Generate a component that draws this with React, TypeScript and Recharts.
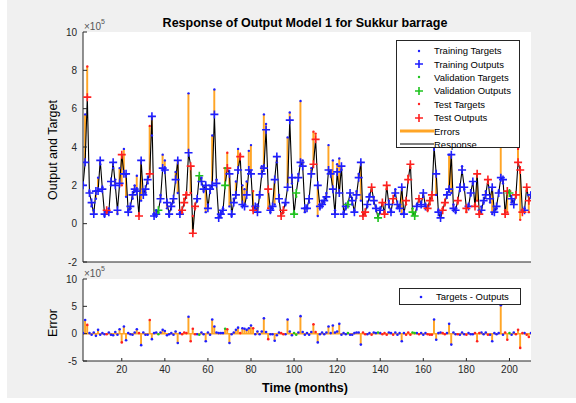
import React from 'react';
import { ComposedChart, Bar, Line, Scatter, XAxis, YAxis, ReferenceLine } from 'recharts';

// time index, months 2..210
const months: number[] = Array.from({ length: 209 }, (_, i) => i + 2);

// values in units of 1e5
const outputs: number[] = [
  2.0, 3.2, 6.6, 1.6, 1.1, 0.5, 1.7, 1.7, 3.3, 1.8,
  0.5, 0.7, 0.6, 2.2, 3.2, 2.0, 0.7, 2.1, 3.6, 2.6,
  2.6, 0.6, 0.9, 1.5, 1.8, 1.7, 0.4, 3.3, 1.5, 1.8,
  2.3, 2.6, 5.6, 0.4, 0.5, 0.7, 1.3, 2.9, 2.8, 1.1,
  0.5, 0.9, 1.3, 2.3, 3.3, 0.5, 0.7, 1.1, 1.5, 3.7,
  3.0, -0.5, 0.9, 1.3, 2.5, 2.2, 1.8, 2.0, 0.8, 1.8,
  2.0, 5.7, 2.1, 0.3, 0.5, 0.7, 2.0, 2.9, 2.6, 0.5,
  1.1, 1.5, 2.8, 3.5, 1.0, 0.9, 1.5, 2.8, 2.6, 0.7,
  0.9, 0.6, 1.5, 2.6, 2.9, 4.9, 1.8, 0.7, 0.9, 2.3,
  3.5, 1.3, 0.4, 0.7, 1.1, 1.9, 5.4, 2.4, 0.5, 1.6,
  2.4, 3.2, 3.0, 0.8, 0.8, 1.3, 2.6, 3.1, 4.4, 2.0,
  0.9, 1.0, 1.2, 1.4, 2.8, 2.6, 1.8, 0.5, 2.7, 1.6,
  3.0, 0.5, 0.9, 1.0, 1.6, 1.2, 0.6, 1.5, 2.4, 3.2,
  0.4, 0.6, 1.0, 1.4, 1.9, 1.2, 0.8, 0.3, 0.7, 1.1,
  0.5, 2.0, 1.0, 0.6, 1.3, 1.6, 1.0, 0.8, 1.9, 0.5,
  1.2, 2.3, 3.1, 0.6, 0.4, 0.9, 1.3, 1.0, 1.6, 0.9,
  0.8, 1.2, 1.5, 4.0, 2.6, 0.6, 0.3, 0.7, 1.1, 1.5,
  1.8, 3.6, 0.8, 0.7, 1.2, 1.9, 2.8, 1.9, 0.8, 0.9,
  1.6, 2.2, 0.9, 2.6, 0.5, 0.7, 1.2, 1.5, 2.3, 1.3,
  1.9, 0.6, 0.9, 1.6, 2.4, 2.3, 0.5, 1.7, 1.6, 1.3,
  1.0, 1.5, 3.2, 2.8, 0.6, 0.7, 1.9, 1.2, 1.5,
];

const targets: number[] = [
  2.1, 5.7, 8.2, 1.7, 0.9, 0.7, 1.3, 2.4, 3.1, 1.9,
  0.4, 0.6, 0.8, 2.0, 2.9, 2.3, 0.5, 2.9, 2.0, 3.9,
  1.4, 0.7, 0.8, 1.3, 2.0, 2.5, 0.5, 1.2, 1.7, 1.6,
  2.1, 5.1, 4.6, 0.5, 0.7, 0.6, 1.5, 3.6, 3.3, 0.8,
  0.4, 1.0, 1.1, 2.7, 1.6, 0.6, 0.6, 1.3, 1.6, 6.8,
  1.6, 0.4, 0.8, 1.2, 2.3, 2.4, 1.7, 0.6, 1.0, 1.6,
  4.6, 7.0, 2.3, 0.4, 0.6, 0.8, 2.9, 3.7, 0.9, 0.4,
  1.3, 2.2, 3.9, 3.6, 2.0, 1.8, 2.2, 3.8, 4.1, 1.7,
  0.8, 1.0, 1.4, 3.0, 5.7, 5.2, 0.8, 0.6, 0.8, 1.0,
  3.2, 1.5, 0.5, 0.6, 1.0, 4.5, 5.8, 2.1, 0.6, 1.4,
  2.6, 6.4, 3.3, 0.6, 0.9, 1.1, 2.9, 4.8, 4.7, 0.4,
  0.8, 1.2, 1.1, 1.6, 4.1, 2.7, 3.3, 0.7, 3.1, 3.4,
  2.8, 0.6, 0.8, 1.1, 1.4, 1.0, 0.7, 1.7, 2.6, 1.2,
  0.6, 0.5, 0.9, 1.5, 1.7, 1.4, 0.9, 0.5, 0.8, 1.0,
  0.6, 1.8, 1.2, 0.7, 1.1, 1.8, 0.8, 0.9, 0.5, 0.6,
  1.0, 2.5, 2.9, 0.8, 0.5, 1.0, 1.2, 1.1, 1.4, 1.0,
  0.7, 1.0, 1.3, 6.6, 1.5, 0.7, 0.5, 0.8, 1.0, 1.6,
  3.6, 1.6, 1.0, 0.6, 1.1, 1.7, 3.0, 1.8, 0.6, 1.0,
  1.5, 2.1, 1.0, 1.2, 0.6, 0.9, 1.1, 1.7, 2.1, 1.1,
  0.5, 0.7, 0.8, 1.7, 7.6, 2.1, 0.7, 0.6, 1.7, 1.1,
  1.2, 1.4, 3.9, 0.2, 0.7, 0.8, 1.7, 0.6, 1.6,
];

// T = training, V = validation, S = test
const sets: string[] = [
  'T', 'T', 'S', 'T', 'T', 'T', 'T', 'T', 'T', 'T',
  'T', 'S', 'T', 'T', 'T', 'T', 'T', 'T', 'S', 'T',
  'T', 'T', 'T', 'T', 'T', 'T', 'S', 'T', 'T', 'T',
  'T', 'S', 'T', 'T', 'T', 'V', 'T', 'T', 'T', 'T',
  'T', 'T', 'T', 'T', 'T', 'T', 'S', 'S', 'S', 'T',
  'S', 'S', 'S', 'T', 'V', 'T', 'T', 'T', 'T', 'T',
  'T', 'T', 'T', 'T', 'T', 'T', 'V', 'S', 'T', 'T',
  'T', 'T', 'T', 'S', 'T', 'T', 'T', 'T', 'T', 'S',
  'T', 'T', 'T', 'T', 'T', 'T', 'S', 'T', 'T', 'T',
  'T', 'T', 'S', 'S', 'T', 'T', 'T', 'T', 'V', 'V',
  'T', 'T', 'T', 'T', 'T', 'T', 'T', 'S', 'S', 'T',
  'T', 'T', 'T', 'T', 'T', 'T', 'T', 'T', 'T', 'T',
  'T', 'T', 'T', 'V', 'T', 'T', 'T', 'T', 'T', 'T',
  'S', 'S', 'T', 'T', 'S', 'T', 'T', 'V', 'T', 'S',
  'S', 'S', 'T', 'T', 'S', 'T', 'T', 'T', 'T', 'T',
  'S', 'S', 'S', 'V', 'V', 'T', 'S', 'T', 'T', 'T',
  'S', 'S', 'S', 'T', 'T', 'T', 'T', 'S', 'S', 'T',
  'T', 'T', 'T', 'T', 'S', 'T', 'T', 'T', 'S', 'T',
  'T', 'T', 'S', 'S', 'S', 'T', 'T', 'T', 'S', 'T',
  'T', 'T', 'T', 'T', 'T', 'T', 'S', 'S', 'V', 'T',
  'T', 'S', 'S', 'S', 'S', 'T', 'S', 'S', 'T',
];

const xTicks = [20, 40, 60, 80, 100, 120, 140, 160, 180, 200];
const respTicks = [-2, 0, 2, 4, 6, 8, 10];
const errTicks = [-5, 0, 5, 10];

const setColor: Record<string, string> = { T: '#1f1fff', V: '#1fc41f', S: '#ff2020' };
const ORANGE = '#ffa526';
const AXIS = '#262626';
const FONT = 'Arial, "Liberation Sans", Helvetica, sans-serif';

const rows = months.map((m, i) => ({
  month: m,
  output: outputs[i],
  target: targets[i],
  span: [Math.min(outputs[i], targets[i]), Math.max(outputs[i], targets[i])],
  error: Math.round((targets[i] - outputs[i]) * 100) / 100,
  set: sets[i],
}));
const bySet = (s: string) => rows.filter((r) => r.set === s);

const plus = (color: string) => (p: any) => (
  <path
    d={`M${p.cx - 4},${p.cy}H${p.cx + 4}M${p.cx},${p.cy - 4}V${p.cy + 4}`}
    stroke={color}
    strokeWidth={1.6}
    fill="none"
  />
);
const dot = (color: string, r: number) => (p: any) => <circle cx={p.cx} cy={p.cy} r={r} fill={color} />;

const tickStyle = { fontSize: 10, fill: AXIS, fontFamily: FONT };

const abs = (left: number, top: number, extra: React.CSSProperties = {}): React.CSSProperties => ({
  position: 'absolute',
  left,
  top,
  fontFamily: FONT,
  color: AXIS,
  whiteSpace: 'nowrap',
  ...extra,
});

const legendItems = [
  { label: 'Training Targets', kind: 'dot', color: setColor.T },
  { label: 'Training Outputs', kind: 'plus', color: setColor.T },
  { label: 'Validation Targets', kind: 'dot', color: setColor.V },
  { label: 'Validation Outputs', kind: 'plus', color: setColor.V },
  { label: 'Test Targets', kind: 'dot', color: setColor.S },
  { label: 'Test Outputs', kind: 'plus', color: setColor.S },
  { label: 'Errors', kind: 'line', color: ORANGE },
  { label: 'Response', kind: 'line', color: '#000' },
];

const Icon = ({ kind, color }: { kind: string; color: string }) => (
  <svg width={34} height={12} style={{ display: 'block' }}>
    {kind === 'dot' && <circle cx={19} cy={6} r={1.2} fill={color} />}
    {kind === 'plus' && <path d="M15,6H23M19,2V10" stroke={color} strokeWidth={1.6} />}
    {kind === 'line' && <line x1={0} y1={6} x2={34} y2={6} stroke={color} strokeWidth={color === ORANGE ? 3 : 1.2} />}
  </svg>
);

export default function App() {
  return (
    <div style={{ position: 'absolute', left: 0, top: 0, width: 576, height: 403, background: '#fff', overflow: 'hidden' }}>
      <div style={{ position: 'absolute', left: 7, top: 0, width: 569, height: 398, background: '#f0f0f0' }} />

      {/* response plot */}
      <div style={{ position: 'absolute', left: 0, top: 0 }}>
        <ComposedChart width={576} height={270} data={rows} margin={{ top: 32, right: 45, bottom: 0, left: 0 }}>
          <rect x={83} y={32} width={448} height={230} fill="#fff" />
          <XAxis dataKey="month" type="number" domain={[2, 210]} ticks={xTicks} allowDataOverflow height={8} tick={false} tickSize={-4} stroke={AXIS} />
          <XAxis xAxisId="top" orientation="top" dataKey="month" type="number" domain={[2, 210]} ticks={xTicks} allowDataOverflow height={0} tick={false} tickSize={-4} stroke={AXIS} />
          <YAxis type="number" domain={[-2, 10]} ticks={respTicks} allowDataOverflow width={83} tickSize={-4} tickMargin={10} tick={tickStyle} stroke={AXIS} />
          <YAxis yAxisId="right" orientation="right" type="number" domain={[-2, 10]} ticks={respTicks} allowDataOverflow width={0} tick={false} tickSize={-4} stroke={AXIS} />
          <Bar dataKey="span" fill={ORANGE} barSize={3} isAnimationActive={false} />
          <Line dataKey="output" stroke="#000" strokeWidth={1.1} dot={false} isAnimationActive={false} />
          {['T', 'V', 'S'].map((s) => (
            <Scatter key={'o' + s} data={bySet(s)} dataKey="output" shape={plus(setColor[s])} isAnimationActive={false} />
          ))}
          {['T', 'V', 'S'].map((s) => (
            <Scatter key={'t' + s} data={bySet(s)} dataKey="target" shape={dot(setColor[s], 1.2)} isAnimationActive={false} />
          ))}
        </ComposedChart>
      </div>

      {/* error plot */}
      <div style={{ position: 'absolute', left: 0, top: 270 }}>
        <ComposedChart width={576} height={133} data={rows} margin={{ top: 9, right: 45, bottom: 0, left: 0 }}>
          <rect x={83} y={9} width={448} height={82} fill="#fff" />
          <XAxis dataKey="month" type="number" domain={[2, 210]} ticks={xTicks} allowDataOverflow height={42} tickSize={-3} tickMargin={8} tick={tickStyle} stroke={AXIS} />
          <XAxis xAxisId="top" orientation="top" dataKey="month" type="number" domain={[2, 210]} ticks={xTicks} allowDataOverflow height={0} tick={false} tickSize={-3} stroke={AXIS} />
          <YAxis type="number" domain={[-5, 10]} ticks={errTicks} allowDataOverflow width={83} tickSize={-4} tickMargin={10} tick={tickStyle} stroke={AXIS} />
          <YAxis yAxisId="right" orientation="right" type="number" domain={[-5, 10]} ticks={errTicks} allowDataOverflow width={0} tick={false} tickSize={-4} stroke={AXIS} />
          <ReferenceLine y={0} stroke={ORANGE} strokeWidth={1.5} />
          <Bar dataKey="error" fill={ORANGE} barSize={2.5} isAnimationActive={false} />
          {['T', 'V', 'S'].map((s) => (
            <Scatter key={'e' + s} data={bySet(s)} dataKey="error" shape={dot(setColor[s], 1.3)} isAnimationActive={false} />
          ))}
        </ComposedChart>
      </div>

      {/* texts */}
      <div style={abs(0, 16, { width: 610, textAlign: 'center', fontSize: 12.5, fontWeight: 'bold', color: '#000' })}>
        Response of Output Model 1 for Sukkur barrage
      </div>
      <div style={abs(84, 20, { fontSize: 10, color: '#555' })}>
        ×10<sup style={{ fontSize: 7, position: 'relative', top: -2 }}>5</sup>
      </div>
      <div style={abs(84, 267, { fontSize: 10, color: '#555' })}>
        ×10<sup style={{ fontSize: 7, position: 'relative', top: -2 }}>5</sup>
      </div>
      <div style={abs(53, 150, { fontSize: 12.5, color: '#000', transform: 'translate(-50%, -50%) rotate(-90deg)' })}>
        Output and Target
      </div>
      <div style={abs(53, 323, { fontSize: 12.5, color: '#000', transform: 'translate(-50%, -50%) rotate(-90deg)' })}>
        Error
      </div>
      <div style={abs(305, 388, { fontSize: 12.5, fontWeight: 'bold', color: '#000', transform: 'translate(-50%, -50%)' })}>
        Time (months)
      </div>

      {/* legends */}
      <div style={abs(396, 40, { width: 124, height: 108, background: '#fff', border: `1px solid ${AXIS}`, paddingTop: 3, boxSizing: 'border-box' })}>
        {legendItems.map((it) => (
          <div key={it.label} style={{ display: 'flex', alignItems: 'center', height: 13.4, fontSize: 9.5, color: '#000' }}>
            <div style={{ marginLeft: 3 }}>
              <Icon kind={it.kind} color={it.color} />
            </div>
            <span>{it.label}</span>
          </div>
        ))}
      </div>
      <div style={abs(399, 288, { width: 122, height: 17, background: '#fff', border: `1px solid ${AXIS}`, boxSizing: 'border-box', display: 'flex', alignItems: 'center', fontSize: 9.5, color: '#000' })}>
        <svg width={36} height={12} style={{ display: 'block' }}>
          <circle cx={21} cy={6} r={1.3} fill={setColor.T} />
        </svg>
        <span>Targets - Outputs</span>
      </div>
    </div>
  );
}
